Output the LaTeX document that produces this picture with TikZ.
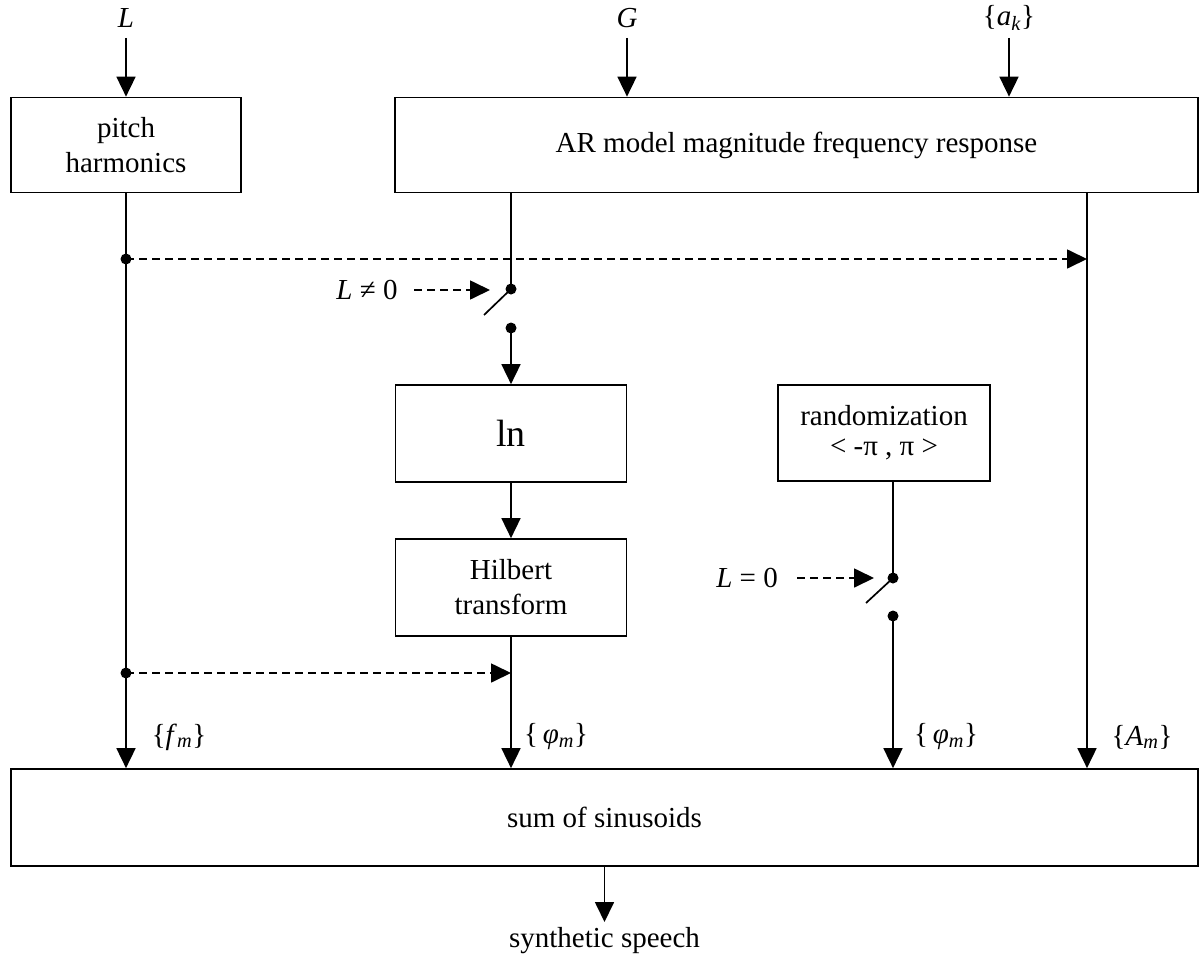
\documentclass[tikz,border=0pt]{standalone}
\usepackage{fontspec}
\setmainfont{Liberation Serif}
\usetikzlibrary{arrows.meta}
\begin{document}
\begin{tikzpicture}[x=1pt,y=-1pt,
  font=\fontsize{29}{35}\selectfont,
  line width=1.7pt,
  >={Triangle[length=20pt,width=19pt]},
  box/.style={draw, rectangle, inner sep=0pt, align=center},
  dot/.style={circle, fill, inner sep=0pt, minimum size=11pt},
  lbl/.style={inner sep=0pt},
  dsh/.style={dashed, dash pattern=on 8pt off 5pt}]
\useasboundingbox (0,0) rectangle (1201,958);
% boxes
\node[box, minimum width=230pt, minimum height=95pt] (pitch) at (126,145) {pitch\\harmonics};
\node[box, minimum width=803pt, minimum height=95pt] (ar) at (796.5,145) {AR model magnitude frequency response};
\node[box, minimum width=231pt, minimum height=97pt, font=\fontsize{38}{42}\selectfont] (ln) at (511,433.5) {ln};
\node[box, minimum width=231pt, minimum height=97pt] (hil) at (511,587.5) {Hilbert\\transform};
\node[box, minimum width=212pt, minimum height=96pt, font=\fontsize{29}{30}\selectfont] (rnd) at (884,433) {randomization\\< -π , π >};
\node[box, minimum width=1187pt, minimum height=97pt] (sum) at (604.5,817.5) {sum of sinusoids};
% inputs
\node[lbl] (Lt) at (126,18) {\textit{L}};
\node[lbl] (Gt) at (627,18) {\textit{G}};
\node[lbl] (at) at (1009,18) {\{\textit{a}\textsubscript{\textit{k}}\}};
\coordinate (Lin) at (126,38);
\coordinate (Gin) at (627,38);
\coordinate (ain) at (1009,38);
\draw[->] (Lin) -- (pitch.north);
\draw[->] (Gin) -- (Gin |- ar.north);
\draw[->] (ain) -- (ain |- ar.north);
% left column
\node[dot] (d1) at (126,259) {};
\node[dot] (d2) at (126,673) {};
\coordinate (Ax) at (1087,192.5);
\draw[->] (pitch.south) -- (pitch.south |- sum.north);
\draw[->] (Ax) -- (Ax |- sum.north);
\coordinate (d1end) at (1087,259);
\coordinate (d2end) at (511,673);
\draw[dsh,->] (d1.center) -- (d1end);
\draw[dsh,->] (d2.center) -- (d2end);
% switch 1
\node[dot] (s1a) at (511,289) {};
\node[dot] (s1b) at (511,328) {};
\coordinate (s1lever) at (484,315);
\coordinate (ar511) at (511,192.5);
\draw (ar511) -- (s1a.center);
\draw (s1a.center) -- (s1lever);
\draw[->] (s1b.center) -- (ln.north);
\node[lbl] (c1) at (367,290) {\textit{L} ≠ 0};
\coordinate (c1s) at (414,290);
\coordinate (c1e) at (490,290);
\draw[dsh,->] (c1s) -- (c1e);
% ln -> hilbert -> sum
\draw[->] (ln.south) -- (hil.north);
\draw[->] (hil.south) -- (hil.south |- sum.north);
% switch 2
\coordinate (r893) at (893,481);
\node[dot] (s2a) at (893,578) {};
\node[dot] (s2b) at (893,616) {};
\coordinate (s2lever) at (866,603);
\draw (r893) -- (s2a.center);
\draw (s2a.center) -- (s2lever);
\draw[->] (s2b.center) -- (s2b.center |- sum.north);
\node[lbl] (c2) at (747,578) {\textit{L} = 0};
\coordinate (c2s) at (797,578);
\coordinate (c2e) at (874,578);
\draw[dsh,->] (c2s) -- (c2e);
% labels
\node[lbl] (fm) at (179,737) {\{\textit{f}\textsubscript{\textit{m}}\}};
\node[lbl] (p1) at (556,737) {\{\,\textit{φ}\textsubscript{\textit{m}}\}};
\node[lbl] (p2) at (946,737) {\{\,\textit{φ}\textsubscript{\textit{m}}\}};
\node[lbl] (Am) at (1142,737) {\{\textit{A}\textsubscript{\textit{m}}\}};
% output
\coordinate (out) at (604.5,922);
\draw[->] (sum.south) -- (out);
\node[lbl] (ss) at (604.5,941) {synthetic speech};
\end{tikzpicture}
\end{document}
